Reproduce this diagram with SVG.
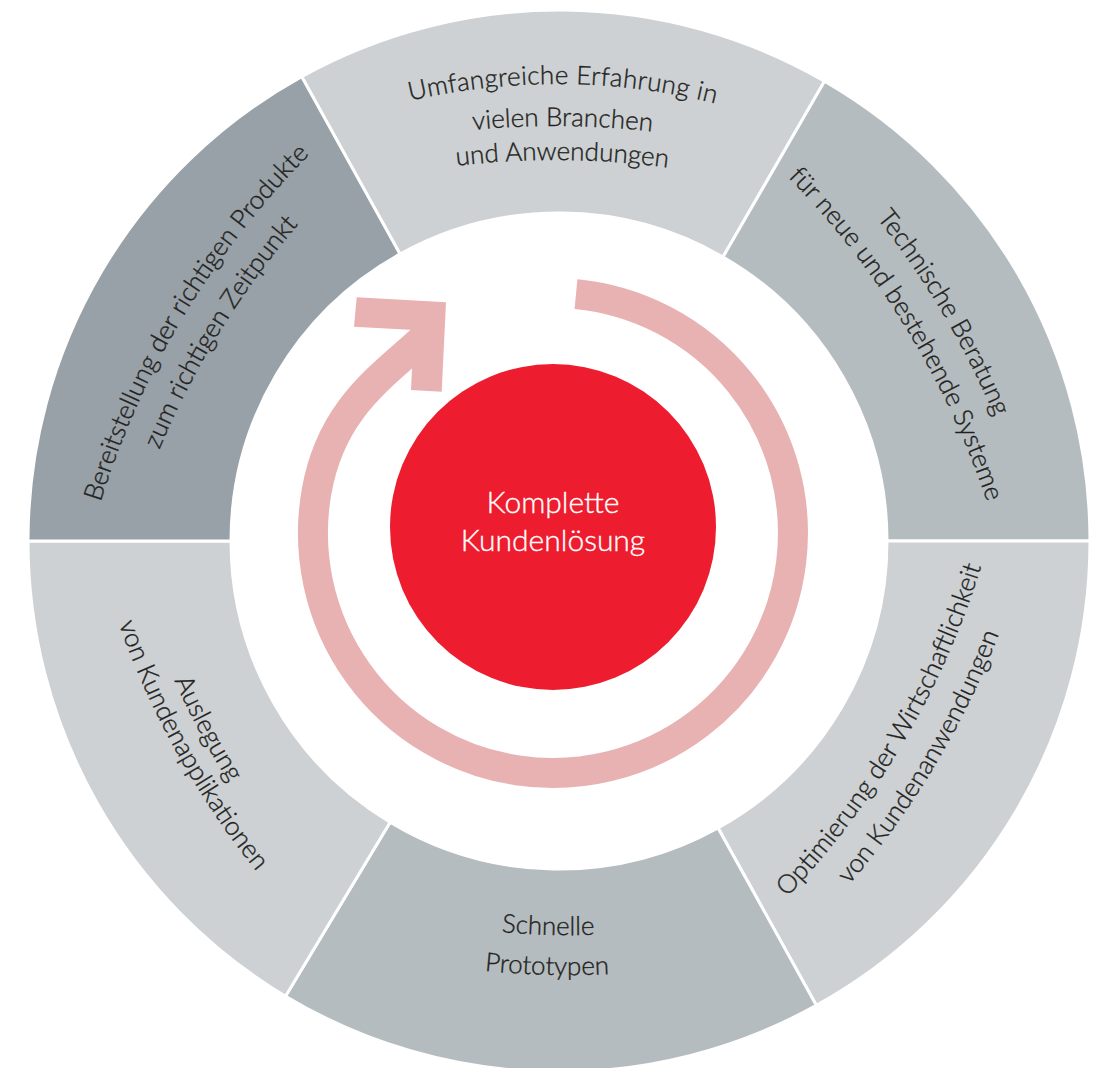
<svg xmlns="http://www.w3.org/2000/svg" xmlns:xlink="http://www.w3.org/1999/xlink" width="1109" height="1068" viewBox="0 0 1109 1068">
<style>
.seg{stroke:#fff;stroke-width:3;stroke-linejoin:miter}
.light{fill:#cdd1d4}
.mid{fill:#b5bcbf}
.dark{fill:#97a1a7}
.lbl{font-family:Lato,"Open Sans","Liberation Sans",sans-serif;font-size:26px;font-weight:300;fill:#231f20;stroke:#231f20;stroke-width:0.35}
.ctr{font-family:Lato,"Open Sans","Liberation Sans",sans-serif;font-size:30px;font-weight:300;fill:#fff;stroke:#fff;stroke-width:0.35;text-anchor:middle}
.pink{fill:none;stroke:#e8b1b2;stroke-width:30}
</style>
<defs>
<path id="t457" d="M269,152.3 A650,650 0 0 1 849,152.3"/>
<path id="t415" d="M268.3,177.3 A850,850 0 0 1 849.7,177.3"/>
<path id="t381" d="M268.3,211.3 A850,850 0 0 1 849.7,211.3"/>
<path id="t446" d="M268.3,146.3 A850,850 0 0 1 849.7,146.3"/>
<path id="t407" d="M268.3,185.3 A850,850 0 0 1 849.7,185.3"/>
<path id="t437" d="M268.3,154.8 A850,850 0 0 1 849.7,154.8"/>
<path id="t398" d="M268.3,193.8 A850,850 0 0 1 849.7,193.8"/>
<path id="b394" d="M268.3,883.7 A850,850 0 0 0 849.7,883.7"/>
<path id="b434" d="M268.3,923.7 A850,850 0 0 0 849.7,923.7"/>
<path id="b399" d="M268.3,888.7 A850,850 0 0 0 849.7,888.7"/>
<path id="b438" d="M268.3,927.7 A850,850 0 0 0 849.7,927.7"/>
<path id="b407" d="M268.3,896.7 A850,850 0 0 0 849.7,896.7"/>
<path id="b437" d="M268.3,926.7 A850,850 0 0 0 849.7,926.7"/>
</defs>
<rect width="1109" height="1068" fill="#fff"/>

<g id="seg-top">
<path class="seg light" d="M301.6,76.6 A531,531 0 0 1 824.5,81.2 L723,257 A328,328 0 0 0 400,254.1 Z"/>
<text class="lbl" transform="rotate(0.5 559 541)" letter-spacing="0.3"><textPath xlink:href="#t457" href="#t457" startOffset="50%" text-anchor="middle">Umfangreiche Erfahrung in</textPath></text>
<text class="lbl" transform="rotate(0.5 559 541)"><textPath xlink:href="#t415" href="#t415" startOffset="50%" text-anchor="middle">vielen Branchen</textPath></text>
<text class="lbl" transform="rotate(0.5 559 541)"><textPath xlink:href="#t381" href="#t381" startOffset="50%" text-anchor="middle">und Anwendungen</textPath></text>
</g>

<g id="seg-upper-right">
<path class="seg mid" d="M824.5,81.2 A531,531 0 0 1 1090,541 L887,541 A328,328 0 0 0 723,257 Z"/>
<text class="lbl" transform="rotate(59.3 559 541)"><textPath xlink:href="#t446" href="#t446" startOffset="50%" text-anchor="middle">Technische Beratung</textPath></text>
<text class="lbl" transform="rotate(58.5 559 541)"><textPath xlink:href="#t407" href="#t407" startOffset="50%" text-anchor="middle">für neue und bestehende Systeme</textPath></text>
</g>

<g id="seg-lower-right">
<path class="seg light" d="M1090,541 A531,531 0 0 1 816.4,1005.4 L718,827.9 A328,328 0 0 0 887,541 Z"/>
<text class="lbl" transform="rotate(-59.6 559 541)"><textPath xlink:href="#b399" href="#b399" startOffset="50%" text-anchor="middle">Optimierung der Wirtschaftlichkeit</textPath></text>
<text class="lbl" transform="rotate(-59.1 559 541)"><textPath xlink:href="#b438" href="#b438" startOffset="50%" text-anchor="middle">von Kundenanwendungen</textPath></text>
</g>

<g id="seg-bottom">
<path class="seg mid" d="M816.4,1005.4 A531,531 0 0 1 285.5,996.2 L390.1,822.2 A328,328 0 0 0 718,827.9 Z"/>
<text class="lbl" transform="rotate(1.6 559 541)"><textPath xlink:href="#b394" href="#b394" startOffset="50%" text-anchor="middle">Schnelle</textPath></text>
<text class="lbl" transform="rotate(1.6 559 541)"><textPath xlink:href="#b434" href="#b434" startOffset="50%" text-anchor="middle">Prototypen</textPath></text>
</g>

<g id="seg-lower-left">
<path class="seg light" d="M285.5,996.2 A531,531 0 0 1 28,541 L231,541 A328,328 0 0 0 390.1,822.2 Z"/>
<text class="lbl" transform="rotate(61.9 559 541)"><textPath xlink:href="#b407" href="#b407" startOffset="50%" text-anchor="middle">Auslegung</textPath></text>
<text class="lbl" transform="rotate(60.9 559 541)"><textPath xlink:href="#b437" href="#b437" startOffset="50%" text-anchor="middle">von Kundenapplikationen</textPath></text>
</g>

<g id="seg-upper-left">
<path class="seg dark" d="M28,541 A531,531 0 0 1 301.6,76.6 L400,254.1 A328,328 0 0 0 231,541 Z"/>
<text class="lbl" transform="rotate(-59 559 541)"><textPath xlink:href="#t437" href="#t437" startOffset="50%" text-anchor="middle">Bereitstellung der richtigen Produkte</textPath></text>
<text class="lbl" transform="rotate(-58.3 559 541)"><textPath xlink:href="#t398" href="#t398" startOffset="50%" text-anchor="middle">zum richtigen Zeitpunkt</textPath></text>
</g>

<g id="connectors">
<path class="pink" d="M576,294.1 A240,240 0 1 1 316.6,491.3 C332.3,402.6 389.6,372.4 432,330"/>
<polygon fill="#e8b1b2" points="356.7,297.3 446,302.3 441.7,391.7 411,390 413.9,330.1 354,326.7"/>
</g>

<g id="center">
<circle cx="553" cy="527" r="163" fill="#ed1c2e"/>
<text class="ctr" x="553" y="512.7">Komplette</text>
<text class="ctr" x="553" y="551">Kundenlösung</text>
</g>
</svg>
